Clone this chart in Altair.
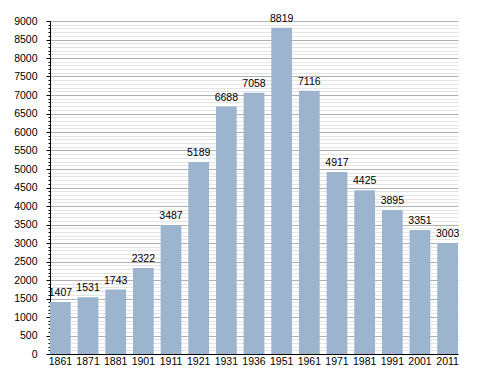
import altair as alt
import pandas as pd

years = ["1861","1871","1881","1901","1911","1921","1931","1936","1951","1961","1971","1981","1991","2001","2011"]
pop = [1407,1531,1743,2322,3487,5189,6688,7058,8819,7116,4917,4425,3895,3351,3003]

df = pd.DataFrame({"year": years, "pop": pop})

base = alt.Chart(df).encode(
    x=alt.X("year:N", sort=None, title=None,
            scale=alt.Scale(paddingInner=0.25, paddingOuter=0),
            axis=alt.Axis(labelAngle=0, labelFont="Liberation Sans", labelFontSize=10.5,
                          labelColor="#000", domainColor="#000", ticks=False, labelPadding=2)),
    y=alt.Y("pop:Q", title=None,
            scale=alt.Scale(domain=[0, 9000], nice=False),
            axis=alt.Axis(values=list(range(0, 9001, 100)),
                          labelExpr="datum.value % 500 === 0 ? datum.value : ''",
                          labelFont="Liberation Sans", labelFontSize=10.5, labelColor="#000",
                          domainColor="#000",
                          tickColor="#000",
                          tickSize={"condition": {"test": "datum.value % 500 === 0", "value": 4}, "value": 2},
                          gridColor={"condition": {"test": "datum.value % 500 === 0", "value": "#b0b0b0"}, "value": "#e4e4e4"},
                          labelPadding=9, labelOverlap=False)),
)

bars = base.mark_bar(color="#9db4ce")
labels = base.mark_text(dy=-9, font="Liberation Sans", fontSize=10.5, color="#000").encode(text="pop:Q")

chart = (bars + labels).properties(
    width=408, height=333,
    padding={"left": 42, "top": 13, "right": 22, "bottom": 19},
    autosize=alt.AutoSizeParams(type="none"),
).configure_view(stroke=None)

chart.save("out.html", embed_options={"renderer": "svg", "actions": False})
